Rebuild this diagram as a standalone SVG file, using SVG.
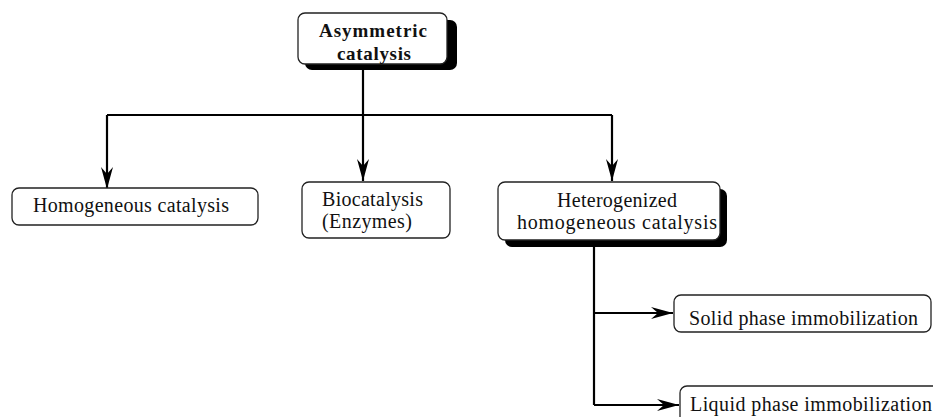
<svg xmlns="http://www.w3.org/2000/svg" width="933" height="417" viewBox="0 0 933 417">
<style>
.box{fill:#fff;stroke:#222;stroke-width:1.3}
.shadow{fill:#000}
.t{font-family:"Liberation Serif","Times New Roman",serif;font-size:20px;fill:#111}
.b{font-weight:bold;font-size:19px}
.line{fill:none;stroke:#000;stroke-width:2.2}
</style>
<defs>
<marker id="ah" markerUnits="userSpaceOnUse" markerWidth="24" markerHeight="14" viewBox="-22 -7 24 14" refX="0" refY="0" orient="auto">
<path d="M0,0 L-22,-6 L-15,0 L-22,6 Z" fill="#000"/>
</marker>
</defs>
<rect width="933" height="417" fill="#fff"/>
<g id="connectors">
<path class="line" d="M363,70 V115"/>
<path class="line" d="M107,115 H612"/>
<path class="line" d="M107,115 V189" marker-end="url(#ah)"/>
<path class="line" d="M363,115 V181" marker-end="url(#ah)"/>
<path class="line" d="M612,115 V181" marker-end="url(#ah)"/>
<path class="line" d="M594,247 V405"/>
<path class="line" d="M594,313 H673" marker-end="url(#ah)"/>
<path class="line" d="M594,405 H679" marker-end="url(#ah)"/>
</g>
<g id="asymmetric">
<rect class="shadow" x="305" y="20" width="152" height="50" rx="7"/>
<rect class="box" x="298" y="13" width="149" height="51" rx="7"/>
<text class="t b" x="373" y="37" text-anchor="middle" textLength="108" lengthAdjust="spacing">Asymmetric</text>
<text class="t b" x="374" y="60" text-anchor="middle" textLength="74" lengthAdjust="spacing">catalysis</text>
</g>
<g id="homogeneous">
<rect class="box" x="12" y="188" width="246" height="37" rx="7"/>
<text class="t" x="33" y="212" textLength="196" lengthAdjust="spacing">Homogeneous catalysis</text>
</g>
<g id="biocatalysis">
<rect class="box" x="302" y="182" width="148" height="56" rx="7"/>
<text class="t" x="322" y="206" textLength="101" lengthAdjust="spacing">Biocatalysis</text>
<text class="t" x="322" y="228" textLength="90" lengthAdjust="spacing">(Enzymes)</text>
</g>
<g id="heterogenized">
<rect class="shadow" x="505" y="189" width="222" height="58" rx="7"/>
<rect class="box" x="498" y="182" width="222" height="58" rx="7"/>
<text class="t" x="557" y="207" textLength="120" lengthAdjust="spacing">Heterogenized</text>
<text class="t" x="517" y="229" textLength="200" lengthAdjust="spacing">homogeneous catalysis</text>
</g>
<g id="solid">
<rect class="box" x="674" y="295" width="257" height="37" rx="7"/>
<text class="t" x="689" y="325" textLength="229" lengthAdjust="spacing">Solid phase immobilization</text>
</g>
<g id="liquid">
<rect class="box" x="680" y="386" width="280" height="60" rx="7"/>
<text class="t" x="690" y="411" textLength="242" lengthAdjust="spacing">Liquid phase immobilization</text>
</g>
</svg>
